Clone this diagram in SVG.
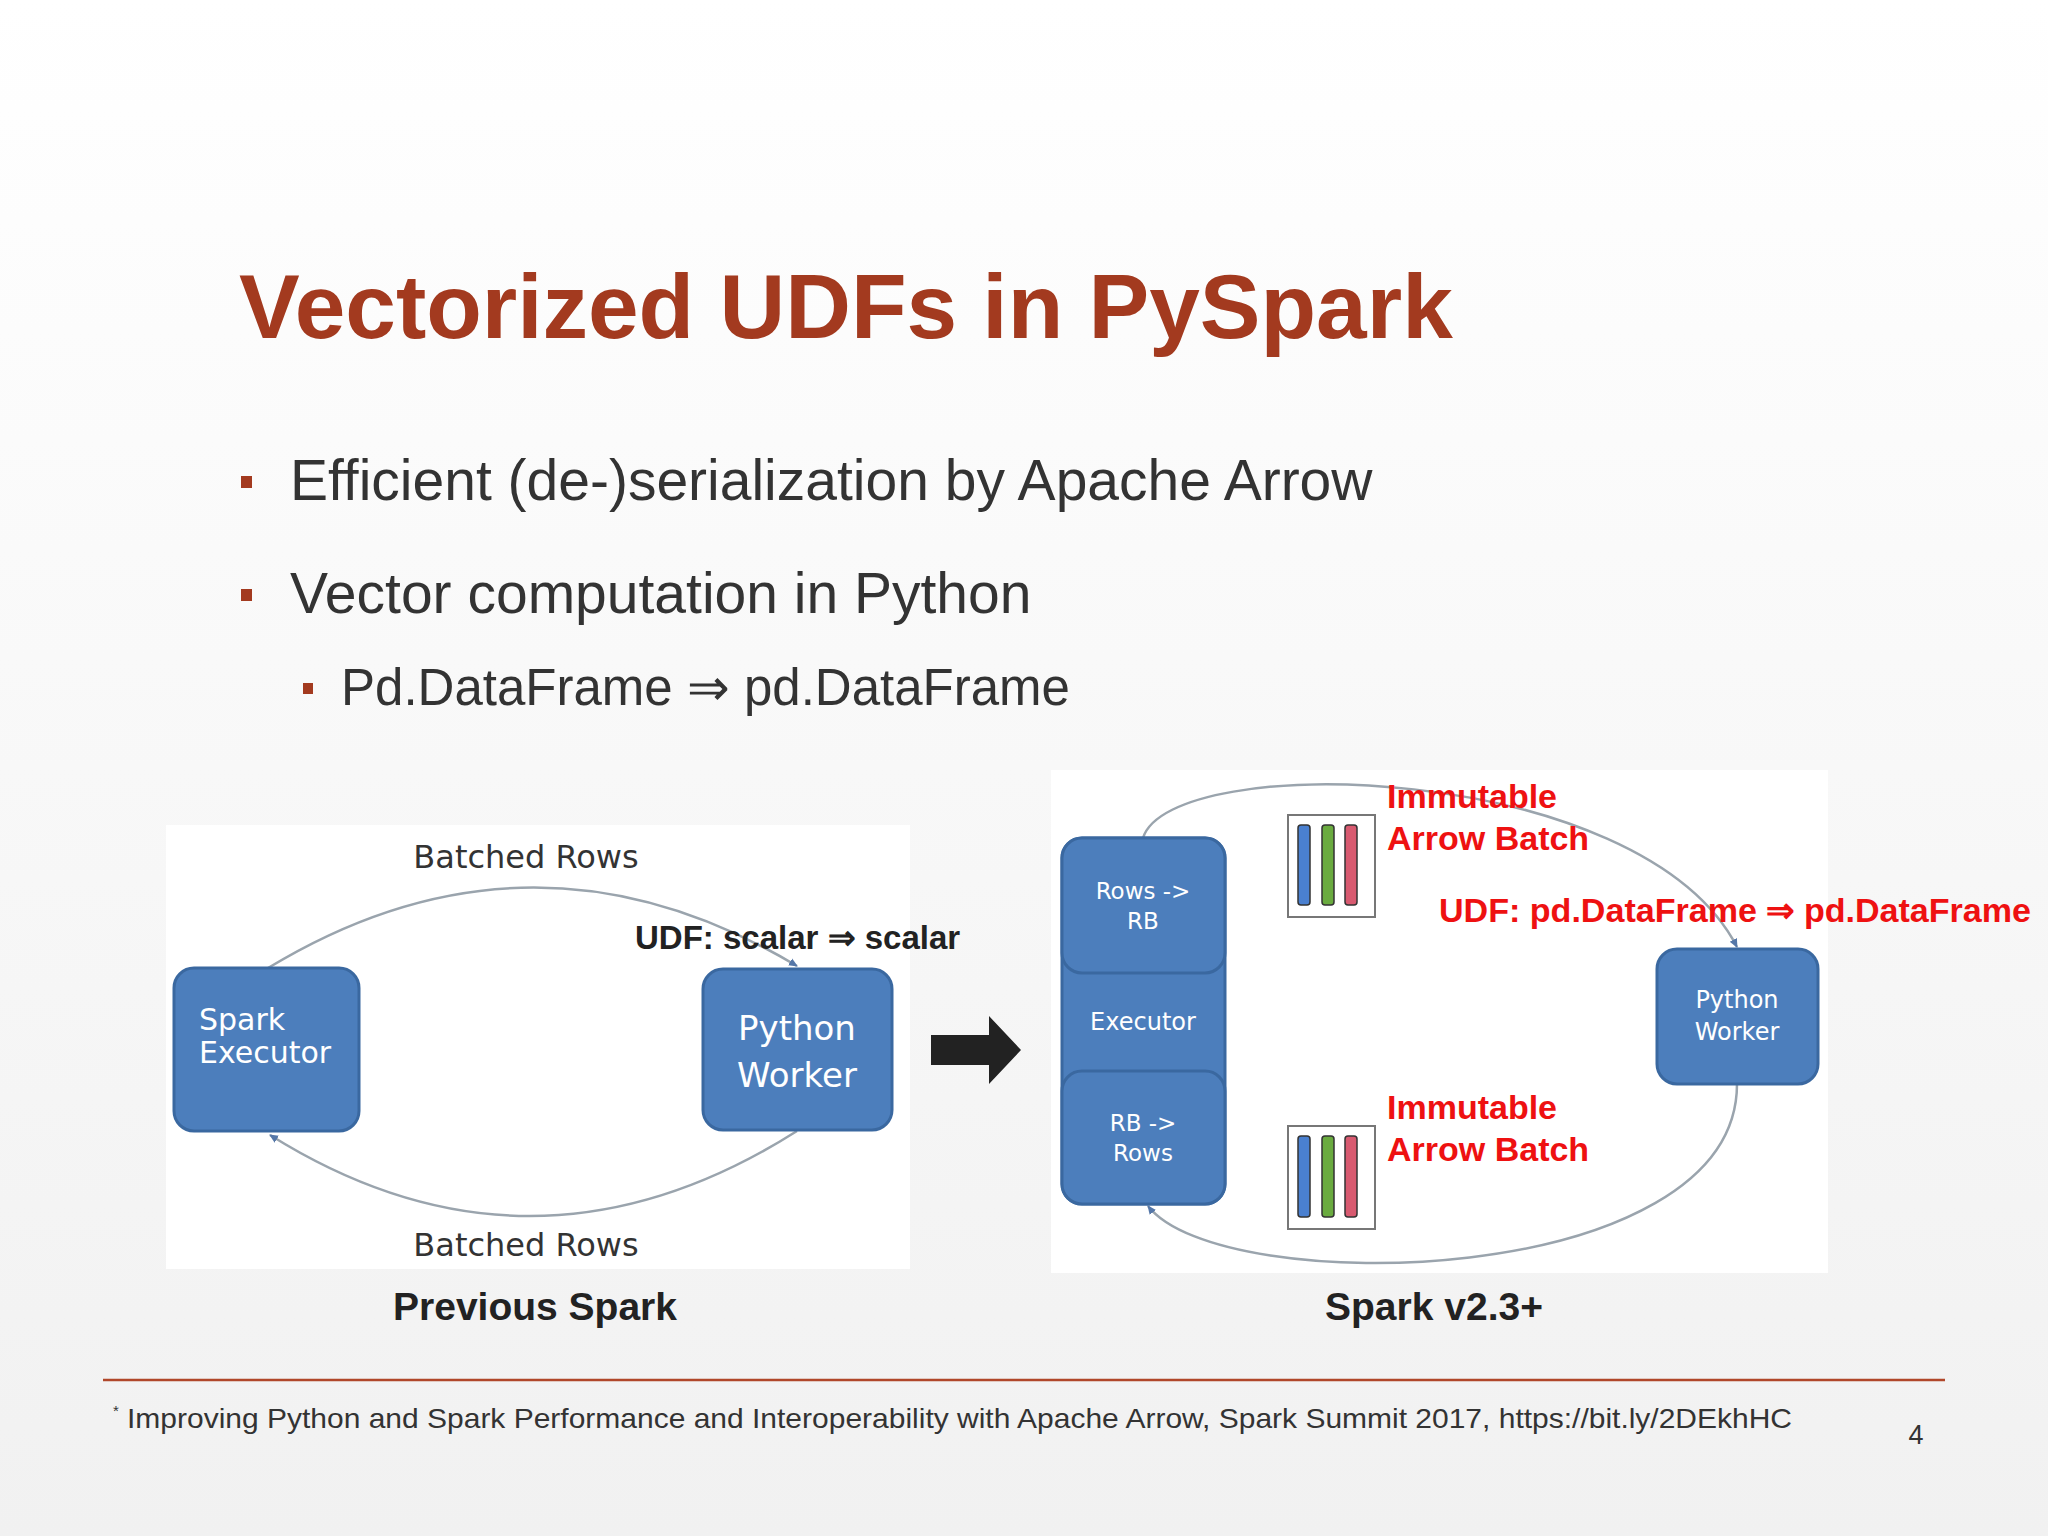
<svg xmlns="http://www.w3.org/2000/svg" width="2048" height="1536" viewBox="0 0 2048 1536">
<defs>
<linearGradient id="bg" x1="0" y1="0" x2="0" y2="1"><stop offset="0" stop-color="#ffffff"/><stop offset="1" stop-color="#f1f1f1"/></linearGradient>
<marker id="ah" markerWidth="10" markerHeight="10" refX="8" refY="5" orient="auto" markerUnits="userSpaceOnUse"><path d="M0,1 L9,5 L0,9 Z" fill="#5577a8"/></marker>
<style>
.box{fill:#4C7EBC;stroke:#3A68A0;stroke-width:3}
.bt{fill:#fff;font-family:"DejaVu Sans",sans-serif}
.arc{fill:none;stroke:#9aa4ad;stroke-width:2.5}
.lbl{font-family:"DejaVu Sans",sans-serif;font-size:32px;fill:#333}
.red{font-family:"Liberation Sans",sans-serif;font-weight:bold;font-size:34px;fill:#ee1111}
.cap{font-family:"Liberation Sans",sans-serif;font-weight:bold;font-size:39px;fill:#222;text-anchor:middle}
.body{font-family:"Liberation Sans",sans-serif;fill:#333}
</style>
</defs>
<rect width="2048" height="1536" fill="url(#bg)"/>
<text x="239" y="338" font-family="Liberation Sans,sans-serif" font-weight="bold" font-size="91" fill="#A33A1F">Vectorized UDFs in PySpark</text>
<g id="bullets">
<rect x="241" y="476" width="11" height="12" fill="#A33A1F"/>
<text class="body" x="290" y="500" font-size="57">Efficient (de-)serialization by Apache Arrow</text>
<rect x="241" y="589" width="11" height="12" fill="#A33A1F"/>
<text class="body" x="290" y="613" font-size="57">Vector computation in Python</text>
<rect x="303" y="683" width="10" height="11" fill="#A33A1F"/>
<text class="body" x="341" y="705" font-size="51">Pd.DataFrame ⇒ pd.DataFrame</text>
</g>
<rect x="166" y="825" width="744" height="444" fill="#fff"/>
<rect x="1051" y="770" width="777" height="503" fill="#fff"/>
<g id="connectors">
<path class="arc" d="M268,968 Q532,808 797,966" marker-end="url(#ah)"/>
<path class="arc" d="M797,1131 Q532,1299 270,1135" marker-end="url(#ah)"/>
<path class="arc" d="M1143,838 C1170,750 1640,760 1737,947" marker-end="url(#ah)"/>
<path class="arc" d="M1737,1084 C1737,1290 1220,1300 1148,1206" marker-end="url(#ah)"/>
<path d="M931,1035 H989 V1016 L1021,1050 L989,1084 V1065 H931 Z" fill="#222"/>
</g>
<g id="spark-executor">
<rect class="box" x="174" y="968" width="185" height="163" rx="20"/>
<text class="bt" x="199" y="1030" font-size="30">Spark</text>
<text class="bt" x="199" y="1063" font-size="30">Executor</text>
</g>
<g id="python-worker">
<rect class="box" x="703" y="969" width="189" height="161" rx="20"/>
<text class="bt" x="797" y="1040" font-size="34" text-anchor="middle">Python</text>
<text class="bt" x="797" y="1087" font-size="34" text-anchor="middle">Worker</text>
</g>
<text class="lbl" x="526" y="868" text-anchor="middle">Batched Rows</text>
<text class="lbl" x="526" y="1256" text-anchor="middle">Batched Rows</text>
<text x="635" y="949" font-family="Liberation Sans,sans-serif" font-weight="bold" font-size="33" fill="#222">UDF: scalar ⇒ scalar</text>
<text class="cap" x="535" y="1320">Previous Spark</text>
<g id="executor2">
<rect class="box" x="1062" y="838" width="163" height="366" rx="20"/>
<rect class="box" x="1062" y="838" width="163" height="135" rx="20"/>
<rect class="box" x="1062" y="1071" width="163" height="133" rx="20"/>
<text class="bt" x="1143" y="899" font-size="23" text-anchor="middle">Rows -&gt;</text>
<text class="bt" x="1143" y="929" font-size="23" text-anchor="middle">RB</text>
<text class="bt" x="1143" y="1030" font-size="24" text-anchor="middle">Executor</text>
<text class="bt" x="1143" y="1131" font-size="23" text-anchor="middle">RB -&gt;</text>
<text class="bt" x="1143" y="1161" font-size="23" text-anchor="middle">Rows</text>
</g>
<g id="python-worker2">
<rect class="box" x="1657" y="949" width="161" height="135" rx="20"/>
<text class="bt" x="1737" y="1008" font-size="24" text-anchor="middle">Python</text>
<text class="bt" x="1737" y="1040" font-size="24" text-anchor="middle">Worker</text>
</g>
<g id="batch-top">
<rect x="1288" y="815" width="87" height="102" fill="#fff" stroke="#777" stroke-width="2"/>
<rect x="1298" y="825" width="12" height="80" rx="3" fill="#4a80d0" stroke="#333" stroke-width="1.5"/>
<rect x="1322" y="825" width="12" height="80" rx="3" fill="#6aab3f" stroke="#333" stroke-width="1.5"/>
<rect x="1345" y="825" width="12" height="80" rx="3" fill="#d85a70" stroke="#333" stroke-width="1.5"/>
</g>
<g id="batch-bottom">
<rect x="1288" y="1126" width="87" height="103" fill="#fff" stroke="#777" stroke-width="2"/>
<rect x="1298" y="1136" width="12" height="81" rx="3" fill="#4a80d0" stroke="#333" stroke-width="1.5"/>
<rect x="1322" y="1136" width="12" height="81" rx="3" fill="#6aab3f" stroke="#333" stroke-width="1.5"/>
<rect x="1345" y="1136" width="12" height="81" rx="3" fill="#d85a70" stroke="#333" stroke-width="1.5"/>
</g>
<text class="red" x="1387" y="808">Immutable</text>
<text class="red" x="1387" y="850">Arrow Batch</text>
<text class="red" x="1439" y="922" textLength="592" lengthAdjust="spacingAndGlyphs">UDF: pd.DataFrame ⇒ pd.DataFrame</text>
<text class="red" x="1387" y="1119">Immutable</text>
<text class="red" x="1387" y="1161">Arrow Batch</text>
<text class="cap" x="1434" y="1320">Spark v2.3+</text>
<line x1="103" y1="1380" x2="1945" y2="1380" stroke="#B0472A" stroke-width="2.5"/>
<text class="body" x="113" y="1416" font-size="15">*</text>
<text class="body" x="127" y="1428" font-size="28" textLength="1665" lengthAdjust="spacingAndGlyphs">Improving Python and Spark Performance and Interoperability with Apache Arrow, Spark Summit 2017, https://bit.ly/2DEkhHC</text>
<text class="body" x="1916" y="1444" font-size="27" text-anchor="middle">4</text>
</svg>
